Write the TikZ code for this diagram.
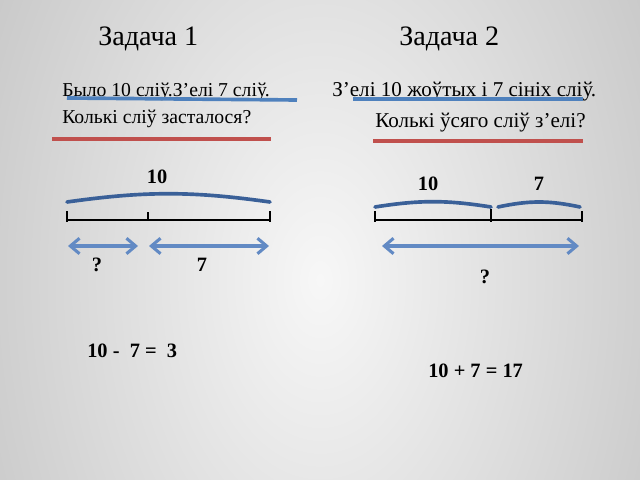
\documentclass[tikz,border=0pt]{standalone}
\usepackage{fontspec}
\setmainfont{Liberation Serif}
\usetikzlibrary{arrows.meta}
\definecolor{lineblue}{RGB}{79,129,189}
\definecolor{linered}{RGB}{192,80,77}
\definecolor{arcblue}{RGB}{58,96,152}
\definecolor{arrowblue}{RGB}{98,138,196}
\definecolor{bginner}{RGB}{247,247,247}
\definecolor{bgouter}{RGB}{166,166,166}
\pgfdeclareradialshading{slidebg}{\pgfpoint{0bp}{0bp}}{color(0bp)=(bginner); color(50bp)=(bgouter); color(80bp)=(bgouter)}
\begin{document}
\begin{tikzpicture}[
    x=0.025cm, y=0.025cm,
    title/.style={font=\fontsize{20}{24}\selectfont, anchor=base west, inner sep=0pt},
    task/.style={font=\fontsize{14}{17}\selectfont, anchor=base west, inner sep=0pt},
    num/.style={font=\fontsize{14.5}{17}\selectfont\bfseries, inner sep=0pt},
    uline/.style={line width=2.6pt, draw=lineblue},
    rline/.style={line width=2.6pt, draw=linered},
    seg/.style={line width=2pt, draw=black},
    brace/.style={draw=arcblue, line width=2.6pt, line cap=round},
    span/.style={{Straight Barb[length=6.5pt,width=11pt]}-{Straight Barb[length=6.5pt,width=11pt]}, draw=arrowblue, line width=2.2pt}
]
    % Background
    \useasboundingbox (0,0) rectangle (640,480);
    \begin{scope}
        \clip (0,0) rectangle (640,480);
        \shade[shading=slidebg] (-10,-320) rectangle (650,720);
    \end{scope}

    % Titles
    \node[title] (title1) at (98,434) {Задача 1};
    \node[title] (title2) at (399,434) {Задача 2};

    % Left side: task 1
    \node[task] (cond1) at (62,383) {Было 10 сліў.З’елі 7 сліў.};
    \node[task] (ask1) at (62,356) {Колькі сліў засталося?};
    \draw[uline] (67,382) -- (297,380);
    \draw[rline] (52,341) -- (271,341);

    \coordinate (s0) at (67,260);
    \coordinate (s1) at (148,260);
    \coordinate (s2) at (270,260);
    \draw[brace] (67,278) to[bend left=8] (270,278);
    \node[num] (whole1) at (157,303) {10};
    \draw[seg] (s0) -- (s2);
    \draw[seg] (s0) ++(0,-2) -- ++(0,11);
    \draw[seg] (s1) -- ++(0,8);
    \draw[seg] (s2) ++(0,-2) -- ++(0,11);

    \coordinate (p0) at (68,234);
    \coordinate (p1) at (138,234);
    \coordinate (p2) at (149,234);
    \coordinate (p3) at (269,234);
    \draw[span] (p0) -- (p1);
    \draw[span] (p2) -- (p3);
    \node[num] (rest1) at (97,215) {?};
    \node[num] (eaten1) at (202,215) {7};

    \node[num, anchor=west] (sum1) at (87,129) {10 -\ \ 7 =\ \ 3};

    % Right side: task 2
    \node[task, font=\fontsize{15}{18}\selectfont] (cond2) at (332,383) {З’елі 10 жоўтых і 7 сініх сліў.};
    \node[task, font=\fontsize{15}{18}\selectfont] (ask2) at (375,352) {Колькі ўсяго сліў з’елі?};
    \draw[uline] (353,381) -- (583,381);
    \draw[rline] (373,339) -- (583,339);

    \coordinate (r0) at (375,260);
    \coordinate (r1) at (491,260);
    \coordinate (r2) at (582,260);
    \draw[brace] (375,273) to[bend left=9] (491,273);
    \draw[brace] (498,273) to[bend left=12] (580,273);
    \node[num] (yellow2) at (428,296) {10};
    \node[num] (blue2) at (539,296) {7};
    \draw[seg] (r0) -- (r2);
    \draw[seg] (r0) ++(0,-2) -- ++(0,11);
    \draw[seg] (r1) ++(0,-2) -- ++(0,13);
    \draw[seg] (r2) ++(0,-2) -- ++(0,11);

    \coordinate (q0) at (382,234);
    \coordinate (q1) at (579,234);
    \draw[span] (q0) -- (q1);
    \node[num] (total2) at (485,203) {?};

    \node[num, anchor=west] (sum2) at (428,109) {10 + 7 = 17};
\end{tikzpicture}
\end{document}
